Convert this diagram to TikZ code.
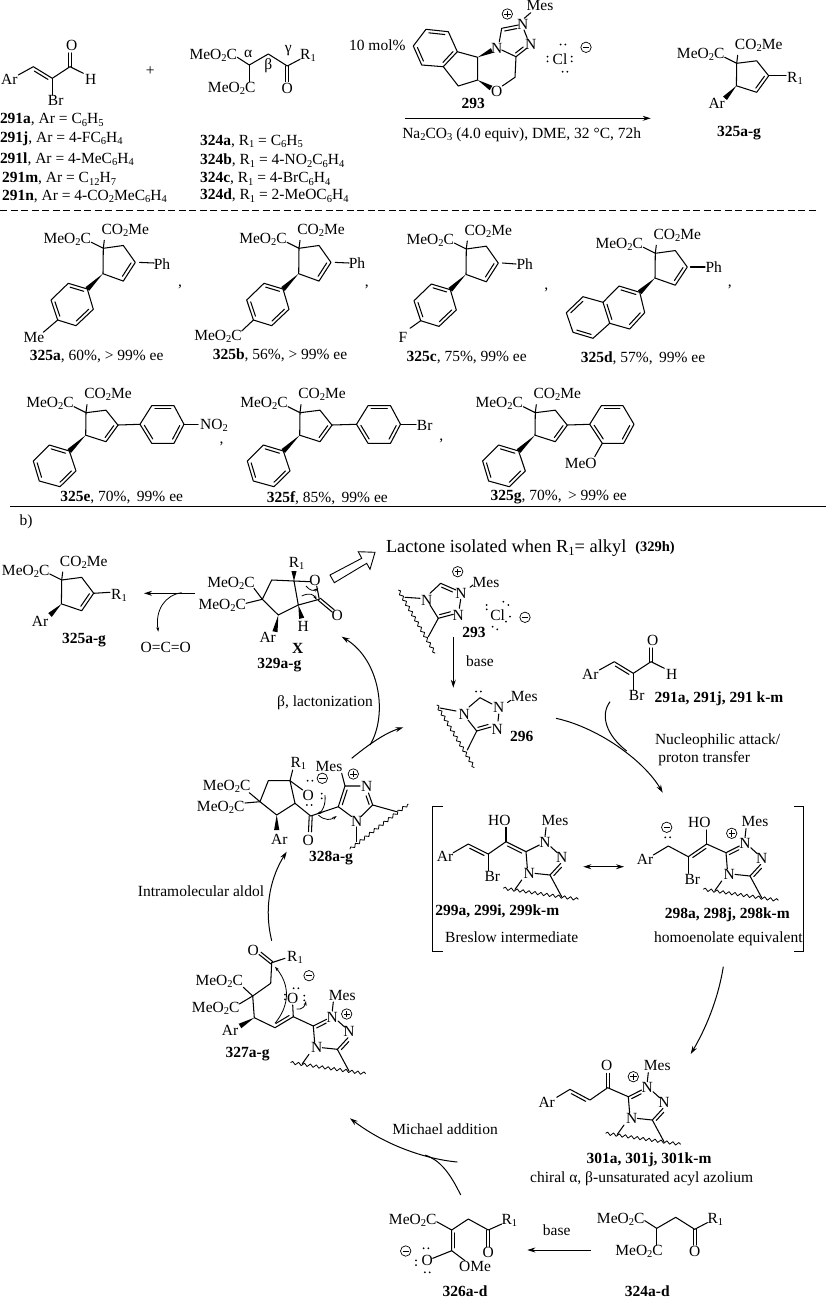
\documentclass[tikz,border=0pt]{standalone}
\usepackage{fontspec}
\setmainfont{Liberation Serif}
\usetikzlibrary{arrows.meta,calc,decorations.pathmorphing}
\newcount\nn
\def\T(#1,#2)#3{\global\advance\nn by 1 \node[lbl] (n\the\nn) at (#1,#2) {#3};}
\def\Tl(#1,#2)#3{\global\advance\nn by 1 \node[lbl,anchor=west] (n\the\nn) at (#1,#2) {#3};}
\newcommand\s[1]{\raisebox{-0.3ex}{\fontsize{10.5}{10}\selectfont #1}}
\newcommand\dR[2]{\draw[bond] ($(#1)!.14!(#2)!3.2pt!-90:(#2)$) -- ($(#2)!.14!(#1)!3.2pt!90:(#1)$);}
\newcommand\dL[2]{\draw[bond] ($(#1)!.14!(#2)!3.2pt!90:(#2)$) -- ($(#2)!.14!(#1)!3.2pt!-90:(#1)$);}
\newcommand\dC[2]{\draw[bond] ($(#1)!1.5pt!90:(#2)$) -- ($(#2)!1.5pt!-90:(#1)$); \draw[bond] ($(#1)!1.5pt!-90:(#2)$) -- ($(#2)!1.5pt!90:(#1)$);}
\newcommand\wdg[2]{\fill ($(#1)$) -- ($(#2)!2.6pt!90:(#1)$) -- ($(#2)!2.6pt!-90:(#1)$) -- cycle;}
\newcommand\ring[6]{\draw[bond] (#1) -- (#2) -- (#3) -- (#4) -- (#5) -- (#6) -- cycle; \dR{#1}{#2} \dR{#3}{#4} \dR{#5}{#6}}
\newcommand\pc[1]{\begin{scope}[shift={(#1)}]\draw[thin0] (0,0) circle (5.2); \draw[thin0] (-3.2,0) -- (3.2,0) (0,-3.2) -- (0,3.2);\end{scope}}
\newcommand\mc[1]{\begin{scope}[shift={(#1)}]\draw[thin0] (0,0) circle (5.2); \draw[thin0] (-3.2,0) -- (3.2,0);\end{scope}}
\newcommand\dt[1]{\fill (#1) circle (1);}
\newcommand\hp[1]{\begin{scope}[shift={(#1)}]\fill (-2.4,0) circle (1) (2.4,0) circle (1);\end{scope}}
\newcommand\vp[1]{\begin{scope}[shift={(#1)}]\fill (0,-2.4) circle (1) (0,2.4) circle (1);\end{scope}}
% cyclopentene core: x, y, stretch
\newcommand\core[3]{\begin{scope}[shift={(#1,#2)}]
 \begin{scope}[yscale=#3]
 \draw[bond] (-.3,22.5) -- (0,0) -- (20,-2.5) -- (32,12.5) -- (20,29) -- cycle;
 \dR{32,12.5}{20,29}
 \end{scope}
 \draw[bond] (-12,-6) -- (0,0) -- (1,-8);
 \T(-36,-9){MeO\s2C} \T(22,-18){CO\s2Me}
 \end{scope}}
\newcommand\aryl[2]{\begin{scope}[shift={(#1,#2)}]
 \wdg{-.4,25.4}{-16,40.7}
 \ring{-35,35}{-16,40.7}{-10,61}{-27.3,77.4}{-45.6,71.7}{-52.3,51.7}
 \end{scope}}
\newcommand\phen[2]{\begin{scope}[shift={(#1,#2)}]
 \wdg{-.3,22.5}{-16.7,38.3}
 \ring{-36.7,32.3}{-16.7,38.3}{-10,58.3}{-26,74}{-46.7,68.3}{-52.7,48.3}
 \end{scope}}
\newcommand\aldeh[2]{\begin{scope}[shift={(#1,#2)}]
 \draw[bond] (-34,-3.3) -- (-19,-11.6) -- (0,0) -- (17.7,-11.6) -- (31,-5);
 \dR{-19,-11.6}{0,0}
 \dC{17.7,-11.6}{17.7,-25.3}
 \draw[bond] (0,0) -- (0,16.7);
 \T(-43,.7){Ar} \T(19.4,-32.6){O} \T(38.4,.7){H} \T(3.4,22.4){Br}
 \end{scope}}
\newcommand\malon[2]{\begin{scope}[shift={(#1,#2)}]
 \draw[bond] (-12,-7.7) -- (0,0) -- (19,-11) -- (38,1) -- (50.7,-5.7);
 \draw[bond] (0,0) -- (0,16.7);
 \dC{38,1}{38,16.7}
 \T(-36,-9.3){MeO\s2C} \T(-17.6,23.3){MeO\s2C} \T(38,23.3){O} \T(58.7,-9.3){R\s1}
 \end{scope}}
% triazole, origin at ring carbon C5
\newcommand\triaz[2]{\begin{scope}[shift={(#1,#2)}]
 \draw[bond] (0,0) -- (13.3,-6.7);
 \draw[bond] (24.7,-5) -- (31.3,1);
 \draw[bond] (34.7,11.7) -- (24,23.3) -- (9,21.7);
 \dL{34.7,11.7}{24,23.3}
 \draw[bond] (0,0) -- (1.3,16);
 \draw[bond] (-4.3,28.3) -- (-11,37.7);
 \draw[bond] (24,23.3) -- (35.7,45);
 \draw[bond] (19,-15) -- (20,-24);
 \draw[wav] (-22.7,36.6) -- (52.3,47.6);
 \T(19,-9){N} \T(35.7,5.6){N} \T(3.3,21.6){N} \T(29,-31){Mes}
 \end{scope}}
\tikzset{
 lbl/.style={inner sep=0pt,outer sep=0pt,font=\fontsize{15.5}{17}\selectfont},
 bond/.style={line width=1.05pt,line cap=round,line join=round},
 thin0/.style={line width=.7pt},
 wav/.style={line width=.8pt,line join=round,decorate,decoration={snake,segment length=6pt,amplitude=1.5pt}},
 arr/.style={line width=1pt,-{Stealth[length=8pt,width=5pt]}},
 sarr/.style={line width=.8pt,-{Stealth[length=4.5pt,width=3pt]}},
 plainc/.style={line width=1pt}
}
\begin{document}
\begin{tikzpicture}[x=1pt,y=-1pt]
\useasboundingbox (0,0) rectangle (826,1299);
\fill[white] (0,0) rectangle (826,1299);
%%% top reaction
\aldeh{52.3}{78.3}
\T(150.3,70.7){+}
\Tl(0,120){\textbf{291a}, Ar = C\s6H\s5}
\Tl(0,138.7){\textbf{291j}, Ar = 4-FC\s6H\s4}
\Tl(0,159){\textbf{291l}, Ar = 4-MeC\s6H\s4}
\Tl(2,179){\textbf{291m}, Ar = C\s{12}H\s7}
\Tl(2,196.7){\textbf{291n}, Ar = 4-CO\s2MeC\s6H\s4}
\malon{249.3}{65}
\T(248.3,54){α} \T(268.3,66){β} \T(288.3,51){γ}
\Tl(200,141.7){\textbf{324a}, R\s1 = C\s6H\s5}
\Tl(200,160.7){\textbf{324b}, R\s1 = 4-NO\s2C\s6H\s4}
\Tl(200,179){\textbf{324c}, R\s1 = 4-BrC\s6H\s4}
\Tl(200,195.7){\textbf{324d}, R\s1 = 2-MeOC\s6H\s4}
\T(377.3,45){10 mol\%}
% catalyst 293
\ring{426,29.3}{448.3,31.7}{457.3,51.7}{443.3,66.7}{421.7,65}{413.3,46}
\draw[bond] (457.3,51.7) -- (477.7,57.3) -- (477.7,80) -- (458.3,86) -- (443.3,66.7);
\wdg{477.7,57.3}{492,50.5}
\wdg{477.7,80}{491,88}
\draw[bond] (499.3,41.7) -- (501.7,28.3) -- (518.3,25);
\dR{501.7,28.3}{518.3,25}
\draw[bond] (524,30) -- (527.3,38.3);
\draw[bond] (516,56.7) -- (526.7,48.3);
\dL{516,56.7}{526.7,48.3}
\draw[bond] (501.7,50) -- (516,56.7) -- (515,77.3) -- (502.3,86);
\draw[bond] (524.3,18.3) -- (530.7,12.7);
\T(496.7,48.3){N} \T(522.7,24){N} \T(530.7,44){N} \T(496.7,91.7){O} \T(540,5.5){Mes}
\pc{507.3,14}
\T(473.3,103.3){\textbf{293}}
\T(560,59.3){Cl}
\hp{563,44.5} \hp{565,71.7} \vp{547.5,59} \vp{571.7,59}
\mc{586,47.3}
\coordinate (r1) at (405,118.3); \coordinate (r2) at (650.7,118.3);
\draw[arr] (r1) -- (r2);
\T(521.7,135){Na\s2CO\s3 (4.0 equiv), DME, 32 °C, 72h}
% product
\core{736.7}{63.3}{1}
\draw[bond] (768.7,75.8) -- (786,75.8);
\wdg{736.4,85.8}{725,98.3}
\T(795,78.3){R\s1} \T(716.7,103.3){Ar}
\T(739,133.3){\textbf{325a-g}}
\draw[line width=.9pt,dash pattern=on 7pt off 3.5pt] (0,210) -- (818,210);
%%% row 1
\core{103.3}{248.3}{1.13} \aryl{103.3}{248.3}
\draw[bond] (139.5,262.4) -- (154,263);
\T(162,264){Ph}
\draw[bond] (57.7,320) -- (43.3,332.3);
\T(34,337.7){Me}
\T(96.7,356.7){\textbf{325a}, 60\%, > 99\% ee}
\T(180,286.7){,}
\core{299}{248.3}{1.13} \aryl{299}{248.3}
\draw[bond] (335.2,262.4) -- (349,263);
\T(357,263){Ph}
\draw[bond] (253.4,320) -- (241.7,331);
\T(218,336.7){MeO\s2C}
\T(280,355){\textbf{325b}, 56\%, > 99\% ee}
\T(366.7,286.7){,}
\core{466.3}{249}{1.13} \aryl{466.3}{249}
\draw[bond] (502.5,263) -- (516,264);
\T(524.7,264){Ph}
\draw[bond] (420.7,320.7) -- (410,328.3);
\T(403,337){F}
\T(466.7,358){\textbf{325c}, 75\%, 99\% ee}
\T(546.3,290){,}
\core{655.3}{253.3}{1.1}
\wdg{655,278}{639.7,292.3}
\ring{619,286}{639.7,292.3}{644.7,312.7}{629.7,329}{609.7,323.3}{603,302.3}
\draw[bond] (603,302.3) -- (583,296.7) -- (566.3,312.7) -- (573,332.3) -- (593,338.3) -- (609.7,323.3);
\dR{566.3,312.7}{583,296.7} \dR{593,338.3}{573,332.3}
\draw[bond] (690.5,267) -- (705,267);
\T(713.7,266.7){Ph}
\T(643,358.3){\textbf{325d}, 57\%,\, 99\% ee}
\T(729.7,286.7){,}
%%% row 2
\core{86}{412.7}{1} \phen{86}{412.7}
\draw[bond] (118,425) -- (140,424.3);
\ring{151.7,405.7}{174,405.7}{184,424.3}{174,443.3}{151.7,443.3}{140,424.3}
\draw[bond] (184,424.3) -- (198,424.3);
\T(214,425.5){NO\s2}
\T(221.5,444){,}
\T(121.7,497.7){\textbf{325e}, 70\%,\, 99\% ee}
\core{300}{412.7}{1} \phen{300}{412.7}
\draw[bond] (332,425) -- (356.5,424.3);
\ring{368,405.7}{390.5,405.7}{400.5,424.3}{390.5,443.3}{368,443.3}{356.5,424.3}
\draw[bond] (400.5,424.3) -- (416,424.3);
\T(424.7,425.7){Br}
\T(441.3,440.7){,}
\T(327.3,498.3){\textbf{325f}, 85\%,\, 99\% ee}
\core{535.3}{412.7}{1} \phen{535.3}{412.7}
\draw[bond] (567.3,425) -- (589.7,424.3);
\ring{601.3,405.7}{623,405.7}{634,424.3}{623.7,443.3}{602.3,443.3}{589.7,424.3}
\draw[bond] (602.3,443.3) -- (594.7,456.7);
\T(580.7,463.3){MeO}
\T(558.7,497.3){\textbf{325g}, 70\%,\, > 99\% ee}
\draw[line width=1pt] (10,506.7) -- (826,506.7);
\T(26,521.7){b)}
%%% b) product
\core{61.7}{580}{1.06}
\draw[bond] (93.7,593.3) -- (110,592.3);
\wdg{61.4,604}{50,615}
\T(119,595.7){R\s1} \T(40,621){Ar} \T(84,640){\textbf{325a-g}}
\coordinate (c1) at (195,593.3); \coordinate (c2) at (144,593.3);
\coordinate (c3) at (181.7,592.7); \coordinate (c4) at (158.3,631.7);
\draw[arr] (c1) -- (c2);
\draw[sarr] (c3) .. controls (165,595) and (155,610) .. (c4);
\T(165.7,647.7){O=C=O}
%%% X
\T(231,583.3){MeO\s2C} \T(222.3,605){MeO\s2C}
\draw[bond] (254,588.3) -- (262.3,599.3) -- (271.7,580) -- (294,581) -- (298.3,605) -- (278.3,615) -- (262.3,599.3);
\draw[bond] (246,603.3) -- (262.3,599.3);
\draw[bond] (294,581) -- (310,581.7);
\draw[bond] (316.7,586) -- (319.3,599.3) -- (298.3,605);
\dC{319.3,599.3}{333.3,611}
\wdg{294,581}{294,571}
\wdg{298.3,605}{301.7,618.3}
\wdg{278.3,615}{275,631.7}
\T(296.7,563.3){R\s1} \T(315,580){O} \T(337.3,615){O} \T(303.3,626.7){H} \T(267.7,637.3){Ar}
\T(297.7,648.3){\textbf{X}} \T(279.3,665){\textbf{329a-g}}
\draw[sarr] (301.7,596) .. controls (310,592) and (314,595) .. (316.7,600);
\draw[sarr] (306,586) .. controls (310,591) and (314,591) .. (318.3,588.3);
\draw[line width=.9pt,line join=miter,fill=white] (330,575) -- (361.7,558.3) -- (358.3,551.7) -- (375,552.3) -- (370,569.3) -- (366.7,563.3) -- (334.3,582.7) -- cycle;
\Tl(386,548.3){\fontsize{18.4}{20}\selectfont Lactone isolated when R\raisebox{-.3ex}{\fontsize{12.5}{12}\selectfont 1}= alkyl}
\T(655,548.3){\fontsize{14.5}{16}\selectfont\textbf{(329h)}}
%%% 293 in cycle
\draw[bond] (430,593.3) -- (440.7,583.3) -- (456,590);
\dR{440.7,583.3}{456,590}
\draw[bond] (460.7,599.3) -- (459.3,608.3);
\draw[bond] (438.3,618.3) -- (453.3,614.3);
\dL{438.3,618.3}{453.3,614.3}
\draw[bond] (438.3,618.3) -- (430,605);
\draw[bond] (438.3,618.3) -- (428.3,636.7);
\draw[bond] (420,598.3) -- (405,597.3);
\draw[wav] (398.3,590) -- (435,653.3);
\draw[bond] (470,587.3) -- (473,585);
\T(426.7,600){N} \T(461,593.3){N} \T(458.3,615){N} \T(486,582.3){Mes}
\pc{457.7,571.7}
\T(497.7,615){Cl}
\dt{503.3,601.7} \dt{508.3,605} \dt{486.7,605} \dt{486.7,609.3} \dt{510,616.7} \dt{506,621.7} \dt{492.7,626.7} \dt{497.3,629.3}
\mc{525,617.3}
\T(474,632.3){\textbf{293}}
\coordinate (b1) at (453.3,637.3); \coordinate (b2) at (453.3,687.7);
\draw[arr] (b1) -- (b2);
\T(480,660.7){base}
%%% aldehyde in cycle
\aldeh{633.3}{673.3}
\T(719,699){\textbf{291a, 291j, 291 k-m}}
%%% 296
\draw[bond] (469,707) -- (480,697.7) -- (492,704);
\draw[bond] (498.8,714) -- (498,721);
\draw[bond] (476.7,731) -- (491,727);
\dL{476.7,731}{491,727}
\draw[bond] (476.7,731) -- (468,720);
\draw[bond] (476.7,731) -- (467.3,750);
\draw[bond] (456,711) -- (440,708);
\draw[wav] (436.7,705) -- (474.3,767.7);
\hp{478.5,691.5}
\draw[bond] (507.5,702.5) -- (510.5,700.5);
\T(464.3,714){N} \T(498.8,707.3){N} \T(497.3,729.3){N} \T(524.3,696){Mes}
\T(521.7,736){\textbf{296}}
\coordinate (e1) at (556,718.3); \coordinate (e2) at (662.7,792.7);
\coordinate (f1) at (610,701.7); \coordinate (f2) at (626.7,751);
\draw[arr] (e1) .. controls (600,728) and (645,762) .. (e2);
\draw[plainc] (f1) .. controls (600,715) and (606,735) .. (f2);
\Tl(655,740.7){Nucleophilic attack/}
\Tl(658.3,759){proton transfer}
%%% brackets
\draw[line width=1pt] (442.7,806.7) -- (432.7,806.7) -- (432.7,951.7) -- (442.7,951.7);
\draw[line width=1pt] (794,806.7) -- (803.3,806.7) -- (803.3,951.7) -- (794,951.7);
%%% 299
\draw[bond] (453.3,852.7) -- (468.3,844) -- (488.3,854) -- (506,841.7) -- (526,851.7);
\dR{468.3,844}{488.3,854}
\dR{506,841.7}{526,851.7}
\draw[bond] (506,841.7) -- (506,827.3);
\draw[bond] (488.3,854) -- (488.3,870.7);
\T(445,856.7){Ar} \T(499.3,820.7){HO} \T(492.3,876.7){Br}
\triaz{526}{851.7}
\T(497.3,911.7){\textbf{299a, 299i, 299k-m}}
\T(511.7,937.3){Breslow intermediate}
\coordinate (d1) at (583.3,866.7); \coordinate (d2) at (624,866.7);
\draw[line width=1pt,{Stealth[length=8pt,width=5pt]}-{Stealth[length=8pt,width=5pt]}] (d1) -- (d2);
%%% 298
\draw[bond] (653.3,855) -- (668.3,846) -- (688.3,856.7) -- (706.7,844) -- (726,852.7);
\dR{688.3,856.7}{706.7,844}
\draw[bond] (706.7,844) -- (706.7,830);
\draw[bond] (688.3,856.7) -- (688.3,873.3);
\T(645,859){Ar} \T(699.3,822.7){HO} \T(692.3,879){Br}
\mc{666.7,827.3} \hp{667.7,837.3}
\triaz{726}{852.7}
\dR{726,852.7}{739.3,846}
\pc{731.7,833.3}
\T(727.3,915){\textbf{298a, 298j, 298k-m}}
\T(728.3,938.7){homoenolate equivalent}
\coordinate (g1) at (723.3,966.7); \coordinate (g2) at (690.7,1054);
\draw[arr] (g1) .. controls (718,1000) and (705,1030) .. (g2);
%%% 301
\draw[bond] (556.7,1097.3) -- (570,1089.3) -- (590,1100) -- (607.7,1087.7) -- (628.3,1096.7);
\dR{570,1089.3}{590,1100}
\dC{607.7,1087.7}{607.7,1073.3}
\T(546.7,1102.3){Ar} \T(606.7,1065.7){O}
\triaz{628.3}{1096.7}
\dR{628.3,1096.7}{641.6,1090}
\pc{633.3,1076.7}
\T(649,1159.3){\textbf{301a, 301j, 301k-m}}
\T(641.7,1178.3){chiral α, β-unsaturated acyl azolium}
%%% 324 bottom
\malon{656.7}{1228.3}
\T(647.3,1291.5){\textbf{324a-d}}
\coordinate (h1) at (590.7,1250); \coordinate (h2) at (527.3,1250);
\draw[arr] (h1) -- (h2);
\T(556.7,1230){base}
%%% 326
\draw[bond] (436.7,1221.7) -- (451.7,1230) -- (468.3,1219) -- (488.3,1230) -- (501.7,1224);
\dC{488.3,1230}{488.3,1246.7}
\draw[bond] (451.7,1230) -- (451.7,1250.7) -- (432.7,1258.3);
\dL{451.7,1230}{451.7,1250.7}
\draw[bond] (451.7,1250.7) -- (465,1260.7);
\T(412.7,1220){MeO\s2C} \T(509.3,1220){R\s1} \T(488.3,1252.7){O} \T(427.3,1260.7){O} \T(475,1266){OMe}
\hp{426,1248.3} \hp{427.3,1272.3} \vp{416,1262.7}
\mc{405.7,1251}
\T(465,1291.5){\textbf{326a-d}}
\coordinate (m1) at (457.3,1162); \coordinate (m2) at (350,1118.3);
\coordinate (m3) at (460.7,1195); \coordinate (m4) at (425,1155);
\draw[arr] (m1) .. controls (425,1159) and (385,1145) .. (m2);
\draw[plainc] (m3) .. controls (450,1173) and (440,1160) .. (m4);
\T(445,1129){Michael addition}
%%% 327
\T(253.3,950){O} \T(295,957.7){R\s1}
\dC{260,953.3}{271.7,962.7}
\draw[bond] (271.7,962.7) -- (285,958.3);
\draw[bond] (271.7,962.7) -- (270.7,983.3) -- (252.7,996) -- (254.3,1017.7) -- (275,1027.7) -- (293.3,1016.7) -- (313.3,1026);
\dL{275,1027.7}{293.3,1016.7}
\draw[bond] (243.3,987.3) -- (252.7,996);
\draw[bond] (239.3,1004) -- (252.7,996);
\wdg{254.3,1017.7}{240,1026}
\draw[bond] (293.3,1016.7) -- (292.7,1005);
\T(219.3,981.7){MeO\s2C} \T(215.7,1008.3){MeO\s2C} \T(230,1030){Ar} \T(292.7,998.3){O}
\hp{296,988.3} \vp{285,997} \vp{304.3,998}
\mc{309,975.7}
\draw[sarr] (275,1023.3) .. controls (290,1005) and (290,985) .. (275,966.7);
\draw[sarr] (296.7,1009) .. controls (302,1010) and (305,1006) .. (306,1001);
\triaz{313.3}{1026}
\dR{313.3,1026}{326.6,1019.3}
\pc{346.7,1014}
\T(247.7,1054.3){\textbf{327a-g}}
\coordinate (i1) at (271.7,940.7); \coordinate (i2) at (286.7,851.7);
\draw[arr] (i1) .. controls (263,905) and (272,875) .. (i2);
\T(201,891){Intramolecular aldol}
%%% 328
\T(226.7,786.7){MeO\s2C} \T(220.7,807.3){MeO\s2C}
\draw[bond] (249.3,792.7) -- (260,801.7) -- (268.3,780.7) -- (290,780.7) -- (295,803.3) -- (276.7,815) -- (260,801.7);
\draw[bond] (245,803) -- (260,801.7);
\draw[bond] (290,780.7) -- (292.7,770);
\draw[bond] (290,780.7) -- (302.7,790);
\draw[bond] (295,803.3) -- (310.7,816) -- (338.3,806.7);
\dC{310.7,816}{310,831.7}
\wdg{276.7,815}{276.7,830}
\T(298.3,763.3){R\s1} \T(279.3,839){Ar} \T(308.3,795){O} \T(308.3,840){O} \T(329,766.7){Mes}
\hp{310,780.7} \vp{321.7,796} \hp{309.3,805}
\mc{322.3,778.3} \pc{353.3,774}
\draw[bond] (338.3,806.7) -- (345,786) -- (360,786);
\dR{338.3,806.7}{345,786}
\draw[bond] (368.5,793) -- (372.7,805) -- (361,816.5);
\dR{368.5,793}{372.7,805}
\draw[bond] (338.3,806.7) -- (351.5,816.5);
\draw[bond] (345,786) -- (341.7,773.3);
\draw[bond] (356.7,827) -- (356.7,841.7);
\draw[bond] (372.7,805) -- (396.7,811.7);
\draw[wav] (350,849.3) -- (408.3,804);
\T(366.7,786.7){N} \T(356.7,821.7){N}
\draw[sarr] (325,795) .. controls (326,805) and (322,812) .. (316.7,814);
\draw[sarr] (318.3,815) .. controls (325,821) and (331,820) .. (336.7,816);
\T(331,858.3){\textbf{328a-g}}
\coordinate (j1) at (370,745); \coordinate (j2) at (341.7,636.7);
\draw[arr] (j1) .. controls (388,715) and (380,660) .. (j2);
\coordinate (k1) at (351.7,758.3); \coordinate (k2) at (403.3,727.3);
\draw[arr] (k1) .. controls (368,745) and (385,733) .. (k2);
\T(325,702.3){β, lactonization}
\end{tikzpicture}
\end{document}
